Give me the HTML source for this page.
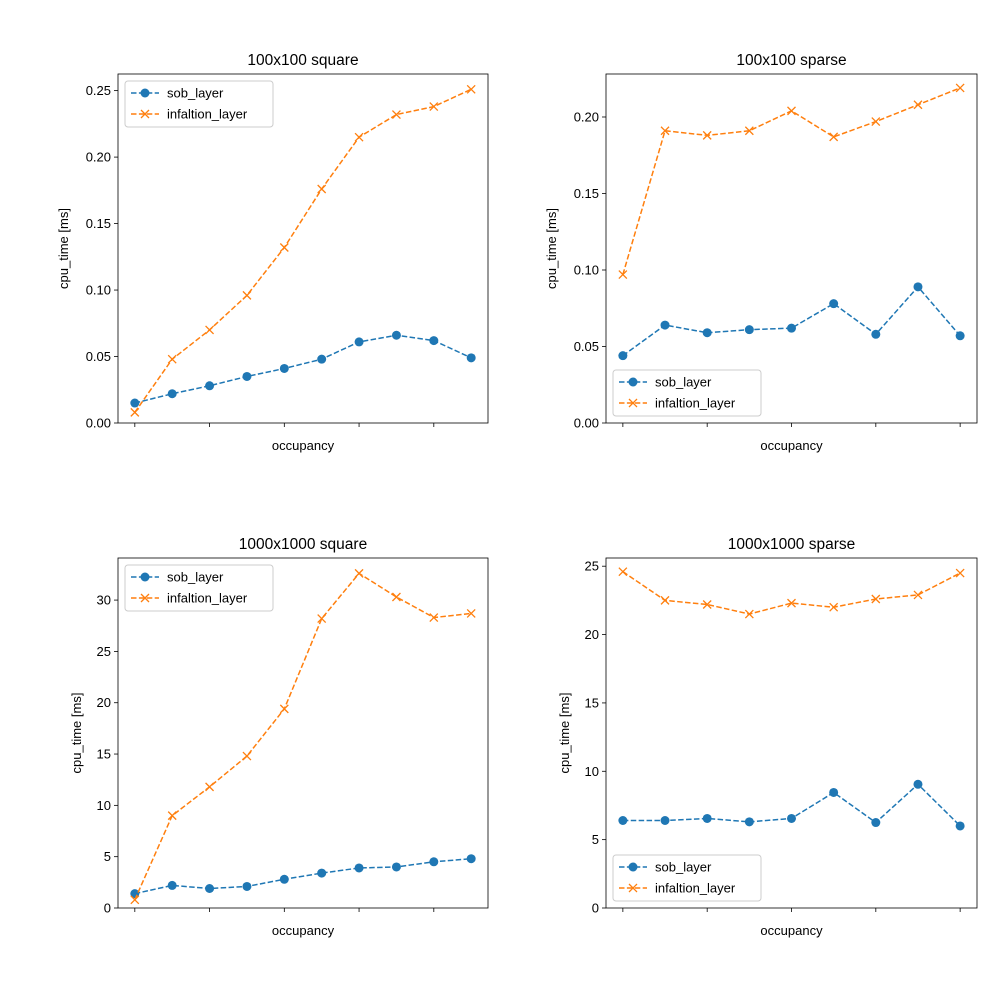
<!DOCTYPE html>
<html><head><meta charset="utf-8"><style>
body{margin:0;background:#fff;}
svg{display:block;font-family:"Liberation Sans","DejaVu Sans",sans-serif;}
</style></head><body>
<svg id="fig" width="1000" height="1000" viewBox="0 0 1000 1000"></svg>
<script>
// Panel data
const tlSob=[0.015,0.022,0.028,0.035,0.041,0.048,0.061,0.066,0.062,0.049];
const tlInf=[0.008,0.048,0.070,0.096,0.132,0.176,0.215,0.232,0.238,0.251];
const tlTicks=[0,0.05,0.10,0.15,0.20,0.25];
const tlTickLabels=["0.00","0.05","0.10","0.15","0.20","0.25"];
const trSob=[0.044,0.064,0.059,0.061,0.062,0.078,0.058,0.089,0.057];
const trInf=[0.097,0.191,0.188,0.191,0.204,0.187,0.197,0.208,0.219];
const trTicks=[0,0.05,0.10,0.15,0.20];
const trTickLabels=["0.00","0.05","0.10","0.15","0.20"];
const blSob=[1.4,2.2,1.9,2.1,2.8,3.4,3.9,4.0,4.5,4.8];
const blInf=[0.8,9.0,11.8,14.8,19.4,28.2,32.6,30.3,28.3,28.7];
const blTicks=[0,5,10,15,20,25,30];
const blTickLabels=["0","5","10","15","20","25","30"];
const brSob=[6.4,6.4,6.55,6.3,6.55,8.45,6.25,9.05,6.0];
const brInf=[24.6,22.5,22.2,21.5,22.3,22.0,22.6,22.9,24.5];
const brTicks=[0,5,10,15,20,25];
const brTickLabels=["0","5","10","15","20","25"];

const NS="http://www.w3.org/2000/svg";
const fig=document.getElementById('fig');
function mk(tag,attrs,parent,text){const e=document.createElementNS(NS,tag);for(const k in attrs)e.setAttribute(k,attrs[k]);if(text!==undefined)e.textContent=text;(parent||fig).appendChild(e);return e;}

function panel(o){
  const g=mk('g',{});
  
  
  const n=o.sob.length;
  const step=(o.x1-o.x0)/(n-1+2*0.5*1.0);
  // matplotlib margins 5%
  const span=n-1, pad=span*0.05;
  const xs=i=>o.x0+(i+pad)/(span+2*pad)*(o.x1-o.x0);
  const ys=v=>o.y1-(v-o.ymin)/(o.ymax-o.ymin)*(o.y1-o.y0);
  // x ticks every other point
  for(let i=0;i<n;i+=2){
    const t=mk('line',{x1:xs(i),x2:xs(i),y1:o.y1,y2:o.y1+4,stroke:'#000','stroke-width':0.8},g);
    
    
  }
  o.ticks.forEach((v,k)=>{
    const y=ys(v);
    const t=mk('line',{x1:o.x0-4,x2:o.x0,y1:y,y2:y,stroke:'#000','stroke-width':0.8},g);
    
    
    const l=mk('text',{x:o.x0-7,y:y+4.5,'text-anchor':'end','font-size':13},g,o.labels[k]);
    
    
  });
  const series=[[o.sob,'#1f77b4','sob'],[o.inf,'#ff7f0e','inf']];
  series.forEach(([d,c,nm])=>{
    const pts=d.map((v,i)=>xs(i)+','+ys(v)).join(' ');
    const pl=mk('polyline',{points:pts,fill:'none',stroke:c,'stroke-width':1.5,'stroke-dasharray':'5.5,2.4'},g);
    
    
    d.forEach((v,i)=>{
      const x=xs(i),y=ys(v);
      if(nm==='sob'){
        const m=mk('circle',{cx:x,cy:y,r:4.5,fill:c},g);
        
        
      }else{
        const m=mk('path',{d:`M${x-4},${y-4}L${x+4},${y+4}M${x-4},${y+4}L${x+4},${y-4}`,stroke:c,'stroke-width':1.3},g);
        
        
      }
    });
  });
  const fr=mk('rect',{x:o.x0,y:o.y0,width:o.x1-o.x0,height:o.y1-o.y0,fill:'none',stroke:'#000','stroke-width':0.8},g);
  
  
  const ti=mk('text',{x:(o.x0+o.x1)/2,y:o.y0-9,'text-anchor':'middle','font-size':15.5},g,o.title);
  
  
  const xl=mk('text',{x:(o.x0+o.x1)/2,y:o.y1+27,'text-anchor':'middle','font-size':13},g,'occupancy');
  
  
  const yx=o.ylx, yy=(o.y0+o.y1)/2;
  const yl=mk('text',{x:yx,y:yy,'text-anchor':'middle','font-size':13,transform:`rotate(-90 ${yx} ${yy})`},g,'cpu_time [ms]');
  
  
  // legend
  const lx=o.x0+7, ly=o.legTop?o.y0+7:o.y1-53;
  const lg=mk('g',{},g);
  
  
  mk('rect',{x:lx,y:ly,width:148,height:46,rx:3,fill:'#fff','fill-opacity':0.8,stroke:'#ccc','stroke-width':1},lg);
  [['sob_layer','#1f77b4',0],['infaltion_layer','#ff7f0e',1]].forEach(([t,c,k])=>{
    const yy2=ly+12+k*21;
    const e=mk('g',{},lg);
    
    
    mk('line',{x1:lx+6,x2:lx+34,y1:yy2,y2:yy2,stroke:c,'stroke-width':1.5,'stroke-dasharray':'5.5,2.4'},e);
    if(k===0)mk('circle',{cx:lx+20,cy:yy2,r:4.5,fill:c},e);
    else mk('path',{d:`M${lx+16},${yy2-4}L${lx+24},${yy2+4}M${lx+16},${yy2+4}L${lx+24},${yy2-4}`,stroke:c,'stroke-width':1.3},e);
    mk('text',{x:lx+42,y:yy2+4.5,'font-size':13},e,t);
  });
}
panel({name:'panel-100x100-square',title:'100x100 square',x0:118,x1:488,y0:74,y1:423,ymin:0,ymax:0.2625,sob:tlSob,inf:tlInf,ticks:tlTicks,labels:tlTickLabels,legTop:true,ylx:68});
panel({name:'panel-100x100-sparse',title:'100x100 sparse',x0:606,x1:977,y0:74,y1:423,ymin:0,ymax:0.2281,sob:trSob,inf:trInf,ticks:trTicks,labels:trTickLabels,legTop:false,ylx:556});
panel({name:'panel-1000x1000-square',title:'1000x1000 square',x0:118,x1:488,y0:558,y1:908,ymin:0,ymax:34.1,sob:blSob,inf:blInf,ticks:blTicks,labels:blTickLabels,legTop:true,ylx:81});
panel({name:'panel-1000x1000-sparse',title:'1000x1000 sparse',x0:606,x1:977,y0:558,y1:908,ymin:0,ymax:25.6,sob:brSob,inf:brInf,ticks:brTicks,labels:brTickLabels,legTop:false,ylx:569});
</script>
</body></html>
